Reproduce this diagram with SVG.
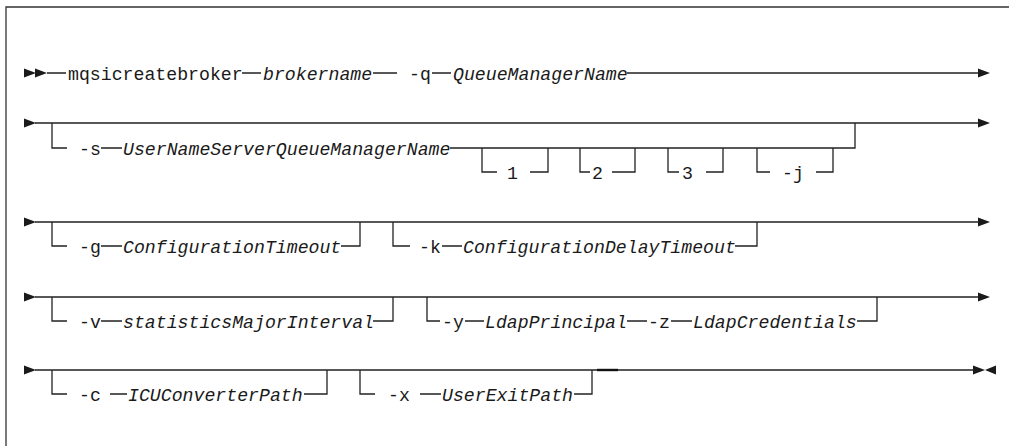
<svg xmlns="http://www.w3.org/2000/svg" width="1009" height="446" viewBox="0 0 1009 446">
<style>
.t{font-family:"Liberation Mono","DejaVu Sans Mono",monospace;font-size:18.2px;fill:#1a1a1a}
.v{font-style:italic}
.ln{fill:none;stroke:#222;stroke-width:1.3}
.fr{fill:none;stroke:#333;stroke-width:1.3}
.ah{fill:#1a1a1a}
</style>
<defs>
<path id="ar" d="M0,-4.5 L12,0 L0,4.5 Z"/>
<path id="al" d="M0,-4.5 L-11,0 L0,4.5 Z"/>
</defs>
<g id="frame"><path class="fr" d="M6,446 V7 H1009"/></g>
<g id="connectors">
<g class="ah">
<use href="#ar" x="24" y="73"/><use href="#ar" x="35" y="73"/><use href="#ar" x="978" y="73"/>
<use href="#ar" x="24" y="123"/><use href="#ar" x="978" y="123"/>
<use href="#ar" x="24" y="222"/><use href="#ar" x="978" y="222"/>
<use href="#ar" x="24" y="297"/><use href="#ar" x="978" y="297"/>
<use href="#ar" x="24" y="370"/><use href="#ar" x="973" y="370"/><use href="#al" x="996" y="370"/>
</g>
<path class="ln" d="M47,73 H66 M242,73 H261 M373,73 H397 M432,73 H451 M627,73 H979"/>
<path class="ln" d="M35,123 H979 M52,123 V148 H67 M101,148 H122 M450,148 H855 V123
M482,148 V172 H497 M530,172 H548 V148
M580,148 V172 H590 M612,172 H635 V148
M668,148 V172 H679 M706,172 H723 V148
M757,148 V172 H770 M816,172 H833 V148"/>
<path class="ln" d="M35,222 H979 M52,222 V246 H67 M101,246 H122 M341,246 H360 V222
M393,222 V246 H410 M442,246 H462 M735,246 H757 V222"/>
<path class="ln" d="M35,297 H979 M52,297 V321 H67 M101,321 H122 M373,321 H393 V297
M427,297 V321 H440 M465,321 H484 M627,321 H647 M671,321 H692 M857,321 H877 V297"/>
<path class="ln" d="M35,370 H974 M52,370 V394 H67 M110,394 H127 M304,394 H327 V370
M360,370 V394 H375 M420,394 H441 M574,394 H592 V370"/>
<path d="M597,370 H618" stroke="#111" stroke-width="2.4"/>
</g>
<g id="n-mqsicreatebroker"><text class="t" x="68" y="79.5">mqsicreatebroker</text></g>
<g id="n-brokername"><text class="t v" x="263" y="79.5">brokername</text></g>
<g id="n-q"><text class="t" x="409" y="79.5">-q</text></g>
<g id="n-QueueManagerName"><text class="t v" x="453" y="79.5">QueueManagerName</text></g>
<g id="n-s"><text class="t" x="79" y="154.5">-s</text></g>
<g id="n-UserNameServerQueueManagerName"><text class="t v" x="123" y="154.5">UserNameServerQueueManagerName</text></g>
<g id="n-1"><text class="t" x="507" y="178.5">1</text></g>
<g id="n-2"><text class="t" x="592" y="178.5">2</text></g>
<g id="n-3"><text class="t" x="682" y="178.5">3</text></g>
<g id="n-j"><text class="t" x="782" y="178.5">-j</text></g>
<g id="n-g"><text class="t" x="79" y="252.5">-g</text></g>
<g id="n-ConfigurationTimeout"><text class="t v" x="123" y="252.5">ConfigurationTimeout</text></g>
<g id="n-k"><text class="t" x="419" y="252.5">-k</text></g>
<g id="n-ConfigurationDelayTimeout"><text class="t v" x="463" y="252.5">ConfigurationDelayTimeout</text></g>
<g id="n-v"><text class="t" x="79" y="327.5">-v</text></g>
<g id="n-statisticsMajorInterval"><text class="t v" x="123" y="327.5">statisticsMajorInterval</text></g>
<g id="n-y"><text class="t" x="442" y="327.5">-y</text></g>
<g id="n-LdapPrincipal"><text class="t v" x="485" y="327.5">LdapPrincipal</text></g>
<g id="n-z"><text class="t" x="648" y="327.5">-z</text></g>
<g id="n-LdapCredentials"><text class="t v" x="693" y="327.5">LdapCredentials</text></g>
<g id="n-c"><text class="t" x="79" y="400.5">-c</text></g>
<g id="n-ICUConverterPath"><text class="t v" x="128" y="400.5">ICUConverterPath</text></g>
<g id="n-x"><text class="t" x="388" y="400.5">-x</text></g>
<g id="n-UserExitPath"><text class="t v" x="442" y="400.5">UserExitPath</text></g>
</svg>
